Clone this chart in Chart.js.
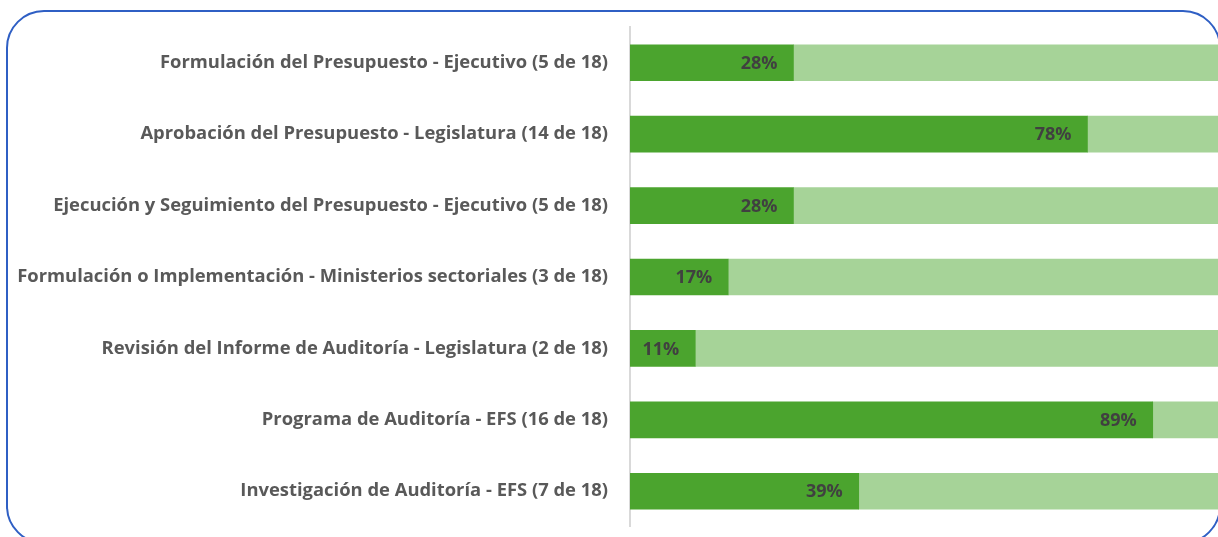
<!DOCTYPE html>
<html><head><meta charset="utf-8">
<script src="https://cdn.jsdelivr.net/npm/chart.js@4/dist/chart.umd.min.js"></script>
<style>
html,body{margin:0;padding:0;background:#fff;overflow:hidden}
#wrap{position:relative;width:1218px;height:537px;overflow:hidden}
#frame{position:absolute;left:6px;top:10px;width:1211px;height:530px;border:2px solid #2f5fc4;border-radius:38px;box-sizing:content-box}
#c{position:absolute;left:0;top:0}
</style></head><body>
<div id="wrap"><div id="frame"></div><canvas id="c" width="1218" height="552"></canvas></div>
<script>
const categories = [
  "Formulación del Presupuesto - Ejecutivo (5 de 18)",
  "Aprobación del Presupuesto - Legislatura (14 de 18)",
  "Ejecución y Seguimiento del Presupuesto - Ejecutivo (5 de 18)",
  "Formulación o Implementación - Ministerios sectoriales (3 de 18)",
  "Revisión del Informe de Auditoría - Legislatura (2 de 18)",
  "Programa de Auditoría - EFS (16 de 18)",
  "Investigación de Auditoría - EFS (7 de 18)"
];
const shareValues = [27.8, 77.8, 27.8, 16.7, 11.1, 88.9, 38.9];
const restValues = [72.2, 22.2, 72.2, 83.3, 88.9, 11.1, 61.1];
const shareLabels = ["28%", "78%", "28%", "17%", "11%", "89%", "39%"];

const labelPlugin = {
  id: 'barLabels',
  afterDatasetsDraw(chart) {
    const ctx = chart.ctx;
    const meta = chart.getDatasetMeta(0);
    ctx.save();
    ctx.font = 'bold 18px "Open Sans"';
    ctx.fillStyle = '#404040';
    ctx.textAlign = 'right';
    ctx.textBaseline = 'middle';
    meta.data.forEach((el, i) => {
      ctx.fillText(shareLabels[i], el.x - 16, el.y + 1);
    });
    ctx.restore();
  }
};

new Chart(document.getElementById('c'), {
  type: 'bar',
  data: {
    labels: categories,
    datasets: [
      { data: shareValues, backgroundColor: '#4ba42e', borderWidth: 0, barThickness: 36 },
      { data: restValues, backgroundColor: '#a6d398', borderWidth: 0, barThickness: 36 }
    ]
  },
  options: {
    indexAxis: 'y',
    responsive: false,
    animation: false,
    layout: { padding: { top: 27, bottom: 0, left: 0, right: 0 } },
    plugins: { legend: { display: false }, tooltip: { enabled: false } },
    scales: {
      x: { stacked: true, min: 0, max: 100, display: false },
      y: {
        stacked: true,
        grid: { display: false },
        border: { display: true, color: '#d9d9d9', width: 2 },
        ticks: { color: '#595959', font: { family: 'Open Sans', size: 18.4, weight: 'bold' }, padding: 14 },
        afterFit(scale) { scale.width = 630; }
      }
    }
  },
  plugins: [labelPlugin]
});
</script>
</body></html>
